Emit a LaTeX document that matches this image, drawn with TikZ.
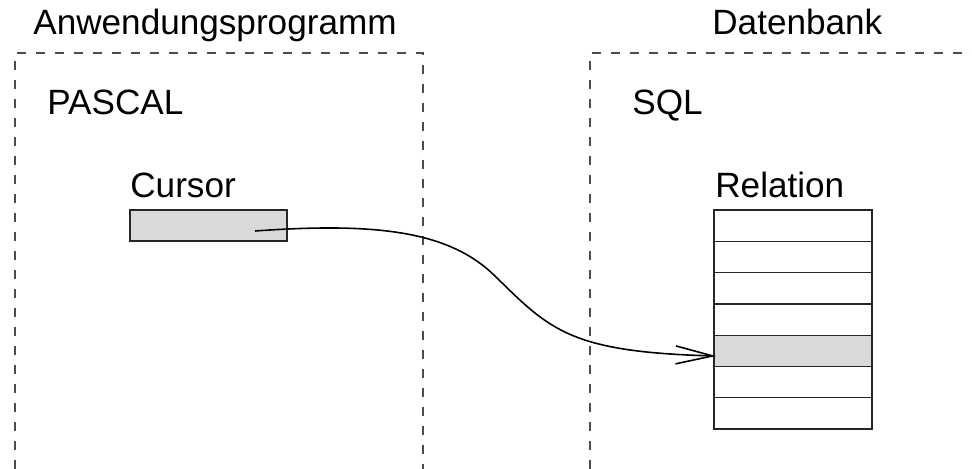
\documentclass[tikz,border=0pt]{standalone}
\usepackage{fontspec}
\setmainfont{Liberation Sans}
\usetikzlibrary{arrows.meta}
\definecolor{cellgray}{RGB}{217,217,217}
\begin{document}
\begin{tikzpicture}[x=0.02cm,y=-0.02cm,
  label text/.style={anchor=base west,inner sep=0,font=\fontsize{20}{24}\selectfont},
  region/.style={draw=black!70,dash pattern=on 0.18cm off 0.2cm,line width=0.7pt},
  cell/.style={draw=black!85,line width=0.7pt,minimum width=3.16cm,minimum height=0.626cm,inner sep=0,outer sep=0}]

\useasboundingbox (0,0) rectangle (972,469);

\draw[region] (15,469) -- (15,53) -- (423,53) -- (423,469);
\draw[region] (590,469) -- (590,53) -- (972,53);

\node[label text](anwendungsprogramm) at (33,35) {Anwendungsprogramm};
\node[label text](datenbank) at (712,35) {Datenbank};
\node[label text](pascal) at (47,115) {PASCAL};
\node[label text](sql) at (632,115) {SQL};
\node[label text](cursor) at (130,198) {Cursor};
\node[label text](relation) at (715,198) {Relation};

\node[cell,fill=cellgray,minimum width=3.14cm,minimum height=0.62cm](cursor box) at (208.5,225.5) {};

\foreach \i/\c in {1/white,2/white,3/white,4/white,5/cellgray,6/white,7/white}
  \node[cell,fill=\c](row \i) at (793,{210+31.3*(\i-0.5)}) {};

\coordinate (cursor start) at (255,231);
\coordinate (tuple end) at (716,356);

\draw[-{Straight Barb[length=0.74cm,width=0.36cm]},line width=0.9pt,draw=black] (cursor start) .. controls (380,222) and (450,232) .. (495,276) .. controls (550,330) and (570,352) .. (tuple end);

\end{tikzpicture}
\end{document}
